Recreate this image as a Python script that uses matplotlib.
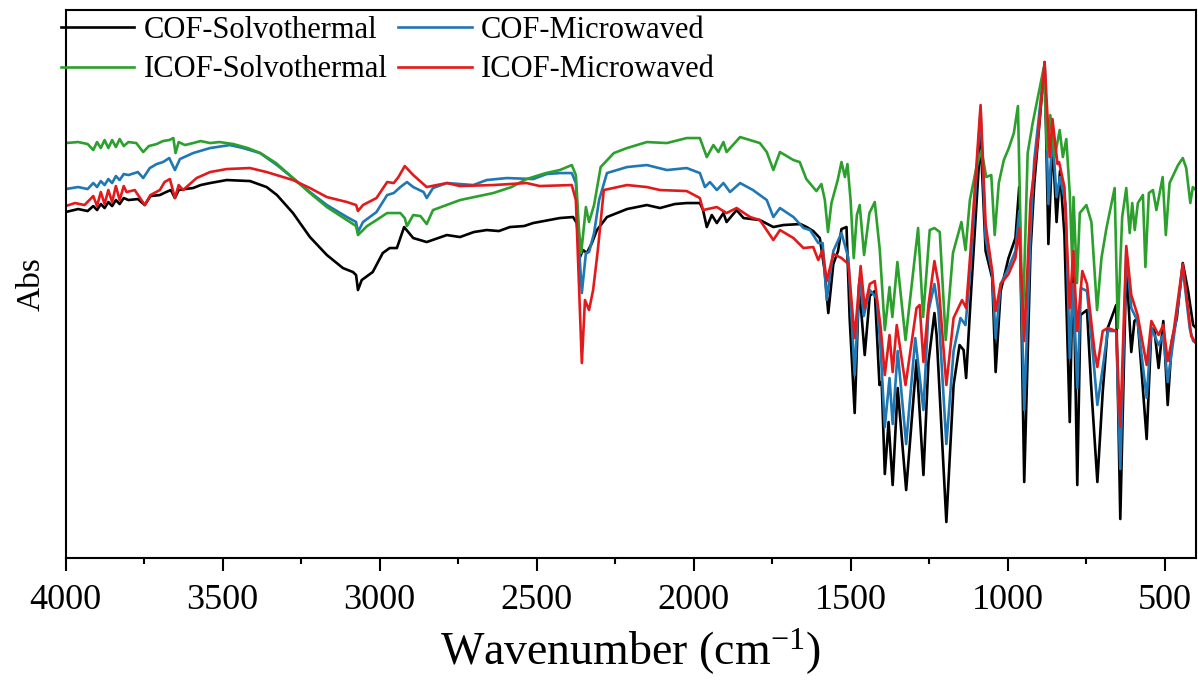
import numpy as np
import matplotlib
matplotlib.use("Agg")
import matplotlib.pyplot as plt
from matplotlib.ticker import MultipleLocator

plt.rcParams["font.family"] = ["Liberation Serif", "DejaVu Serif"]
plt.rcParams["mathtext.fontset"] = "custom"
plt.rcParams["mathtext.rm"] = "Liberation Serif"
plt.rcParams["mathtext.it"] = "Liberation Serif"

# FTIR spectra, (wavenumber cm-1, absorbance a.u.)
cof_solvo = np.array([
    (4000, 346), (3960, 349), (3930, 347), (3912, 352), (3900, 348), (3888, 354),
    (3876, 350), (3864, 356), (3852, 352), (3840, 358), (3828, 354), (3815, 360),
    (3800, 358), (3770, 359), (3748, 353), (3730, 362), (3700, 363), (3680, 366),
    (3665, 368), (3652, 360), (3640, 368), (3620, 369), (3594, 370), (3570, 373),
    (3540, 375), (3487, 378), (3413, 377), (3360, 371), (3327, 363), (3276, 345),
    (3222, 321), (3168, 303), (3117, 290), (3085, 286), (3075, 283), (3069, 268),
    (3057, 278), (3022, 286), (2990, 305), (2968, 310), (2945, 310), (2922, 331),
    (2893, 320), (2850, 316), (2786, 323), (2744, 321), (2700, 326), (2659, 328),
    (2620, 327), (2585, 331), (2540, 332), (2511, 335), (2426, 340), (2384, 341),
    (2372, 335), (2362, 301), (2352, 308), (2340, 305), (2324, 315), (2308, 328),
    (2276, 341), (2212, 349), (2149, 353), (2107, 350), (2060, 354), (2022, 355),
    (1980, 355), (1970, 348), (1958, 331), (1942, 343), (1926, 335), (1905, 345),
    (1895, 336), (1863, 348), (1841, 340), (1789, 338), (1746, 331), (1714, 333),
    (1660, 334), (1640, 331), (1619, 327), (1598, 320), (1583, 288), (1571, 245),
    (1555, 294), (1540, 307), (1529, 329), (1513, 331), (1503, 240), (1487, 145),
    (1473, 274), (1455, 203), (1439, 262), (1423, 267), (1408, 173), (1401, 176),
    (1391, 84), (1379, 136), (1366, 73), (1350, 170), (1323, 68), (1290, 198),
    (1268, 83), (1252, 196), (1233, 245), (1226, 223), (1195, 36), (1172, 173),
    (1153, 213), (1140, 208), (1132, 180), (1118, 257), (1086, 421), (1070, 307),
    (1049, 280), (1038, 186), (1022, 267), (997, 300), (975, 320), (963, 371),
    (947, 76), (927, 307), (915, 374), (882, 496), (870, 314), (857, 418),
    (844, 336), (833, 387), (819, 324), (802, 136), (791, 307), (778, 73),
    (768, 243), (747, 248), (734, 173), (714, 76), (697, 166), (681, 230),
    (654, 253), (641, 39), (622, 294), (606, 206), (596, 237), (586, 240),
    (557, 119), (542, 230), (532, 227), (519, 190), (504, 237), (490, 153),
    (477, 217), (461, 240), (442, 295), (425, 267), (409, 233), (400, 230),
])

cof_micro = np.array([
    (4000, 369), (3960, 371), (3930, 369), (3912, 375), (3900, 371), (3888, 377),
    (3876, 373), (3864, 379), (3852, 375), (3840, 382), (3828, 378), (3815, 384),
    (3800, 383), (3770, 386), (3753, 380), (3732, 390), (3710, 394), (3690, 396),
    (3670, 400), (3652, 388), (3636, 399), (3594, 405), (3540, 410), (3477, 413),
    (3435, 410), (3381, 405), (3327, 393), (3276, 380), (3222, 366), (3168, 353),
    (3104, 341), (3075, 336), (3069, 326), (3053, 336), (3010, 346), (2976, 363),
    (2955, 365), (2934, 371), (2913, 376), (2893, 371), (2860, 366), (2850, 360),
    (2830, 370), (2786, 375), (2702, 373), (2659, 378), (2595, 380), (2511, 379),
    (2468, 384), (2425, 385), (2388, 385), (2375, 375), (2365, 311), (2356, 265),
    (2343, 305), (2333, 306), (2317, 325), (2301, 358), (2276, 385), (2212, 391),
    (2149, 393), (2085, 388), (2022, 390), (1980, 385), (1964, 371), (1948, 376),
    (1926, 368), (1905, 375), (1884, 366), (1852, 375), (1811, 368), (1767, 358),
    (1746, 341), (1725, 350), (1682, 341), (1650, 330), (1629, 328), (1603, 315),
    (1589, 315), (1576, 258), (1555, 307), (1529, 325), (1507, 300), (1487, 183),
    (1471, 280), (1458, 242), (1439, 268), (1417, 260), (1404, 207), (1391, 131),
    (1376, 180), (1366, 134), (1350, 207), (1323, 114), (1294, 220), (1268, 148),
    (1252, 247), (1233, 274), (1220, 247), (1195, 114), (1172, 207), (1150, 240),
    (1134, 233), (1118, 290), (1086, 448), (1070, 320), (1049, 284), (1038, 220),
    (1022, 274), (997, 290), (975, 307), (963, 347), (947, 148), (927, 324),
    (915, 398), (882, 495), (870, 354), (857, 424), (844, 361), (833, 381),
    (815, 354), (802, 200), (791, 274), (778, 170), (766, 270), (747, 267),
    (729, 207), (714, 153), (697, 190), (681, 227), (654, 227), (641, 89),
    (622, 307), (606, 250), (586, 237), (557, 160), (542, 230), (519, 213),
    (504, 223), (490, 176), (471, 220), (442, 290), (420, 230), (409, 217),
    (400, 215),
])

icof_solvo = np.array([
    (4000, 415), (3960, 416), (3930, 414), (3912, 408), (3900, 416), (3888, 410),
    (3876, 418), (3864, 410), (3852, 418), (3840, 411), (3828, 419), (3815, 412),
    (3800, 416), (3775, 415), (3753, 406), (3735, 412), (3710, 414), (3690, 417),
    (3670, 418), (3657, 420), (3650, 405), (3640, 416), (3620, 413), (3594, 415),
    (3570, 417), (3540, 415), (3510, 416), (3466, 414), (3420, 410), (3380, 405),
    (3330, 395), (3276, 380), (3222, 365), (3168, 351), (3104, 338), (3075, 332),
    (3069, 323), (3040, 332), (3010, 338), (2976, 345), (2934, 345), (2920, 340),
    (2913, 332), (2893, 343), (2870, 342), (2850, 334), (2830, 348), (2744, 358),
    (2638, 365), (2580, 371), (2532, 379), (2470, 385), (2426, 388), (2388, 393),
    (2375, 383), (2365, 328), (2358, 305), (2343, 351), (2333, 336), (2317, 353),
    (2296, 391), (2254, 405), (2212, 410), (2149, 416), (2085, 415), (2022, 420),
    (1980, 420), (1958, 401), (1937, 413), (1921, 406), (1905, 416), (1895, 406),
    (1852, 421), (1789, 415), (1767, 406), (1746, 388), (1725, 406), (1682, 398),
    (1662, 396), (1641, 379), (1609, 367), (1593, 374), (1582, 358), (1572, 326),
    (1561, 355), (1541, 378), (1529, 396), (1518, 381), (1510, 394), (1500, 358),
    (1490, 300), (1480, 343), (1471, 353), (1457, 303), (1440, 345), (1423, 356),
    (1407, 308), (1391, 228), (1376, 271), (1367, 241), (1351, 296), (1325, 218),
    (1285, 330), (1269, 241), (1248, 328), (1233, 330), (1216, 326), (1197, 218),
    (1174, 305), (1147, 336), (1134, 308), (1120, 358), (1099, 391), (1083, 408),
    (1068, 381), (1052, 383), (1041, 323), (1028, 375), (1012, 398), (996, 410),
    (980, 425), (967, 452), (952, 228), (936, 405), (920, 435), (885, 490),
    (874, 408), (864, 443), (850, 401), (834, 428), (824, 401), (813, 419),
    (802, 365), (794, 295), (790, 361), (779, 275), (770, 345), (749, 353),
    (733, 336), (715, 248), (701, 300), (685, 330), (659, 370), (649, 230),
    (635, 341), (622, 370), (611, 325), (603, 355), (595, 328), (585, 355),
    (569, 363), (561, 291), (550, 365), (537, 368), (526, 348), (506, 381),
    (496, 323), (484, 375), (457, 393), (442, 400), (431, 390), (418, 355),
    (410, 371), (400, 368),
])

icof_micro = np.array([
    (4000, 352), (3970, 355), (3940, 353), (3912, 362), (3900, 352), (3888, 366),
    (3876, 354), (3864, 368), (3852, 356), (3840, 372), (3828, 358), (3815, 372),
    (3806, 366), (3780, 368), (3748, 353), (3730, 363), (3700, 368), (3685, 376),
    (3668, 379), (3652, 360), (3640, 373), (3626, 368), (3583, 380), (3540, 386),
    (3487, 389), (3413, 390), (3360, 386), (3276, 378), (3222, 370), (3168, 361),
    (3104, 356), (3075, 353), (3069, 347), (3053, 353), (3010, 360), (2976, 376),
    (2955, 375), (2940, 381), (2920, 392), (2893, 383), (2850, 371), (2786, 375),
    (2744, 372), (2638, 373), (2532, 375), (2490, 372), (2388, 373), (2375, 358),
    (2365, 271), (2356, 195), (2346, 258), (2333, 248), (2320, 268), (2305, 308),
    (2286, 368), (2212, 373), (2149, 371), (2107, 368), (2022, 367), (1980, 360),
    (1970, 348), (1926, 351), (1895, 345), (1863, 350), (1820, 341), (1789, 338),
    (1746, 318), (1725, 328), (1682, 320), (1650, 310), (1619, 311), (1603, 298),
    (1589, 308), (1576, 277), (1555, 304), (1529, 300), (1507, 294), (1487, 220),
    (1468, 292), (1455, 250), (1439, 274), (1423, 277), (1404, 230), (1391, 183),
    (1376, 223), (1366, 186), (1353, 233), (1325, 173), (1290, 250), (1280, 253),
    (1268, 196), (1252, 253), (1233, 297), (1220, 274), (1195, 173), (1172, 240),
    (1145, 258), (1132, 250), (1118, 307), (1086, 453), (1070, 334), (1049, 287),
    (1038, 247), (1022, 274), (997, 284), (975, 300), (963, 330), (947, 217),
    (927, 357), (905, 414), (882, 496), (866, 401), (857, 439), (841, 394),
    (836, 396), (819, 371), (802, 250), (791, 307), (778, 227), (762, 287),
    (747, 274), (723, 207), (714, 191), (697, 227), (681, 230), (654, 227),
    (641, 131), (622, 312), (606, 263), (586, 243), (557, 193), (542, 237),
    (519, 223), (504, 233), (490, 197), (471, 227), (442, 294), (415, 222),
    (400, 215),
])

series = [
    ("COF-Solvothermal", cof_solvo, "black"),
    ("COF-Microwaved", cof_micro, "#1f77b4"),
    ("ICOF-Solvothermal", icof_solvo, "#2ca02c"),
    ("ICOF-Microwaved", icof_micro, "#e31a1c"),
]

fig = plt.figure(figsize=(11.98, 6.80), dpi=100)
ax = fig.add_axes([0.0548, 0.1794, 0.9435, 0.8058])

lineas = {}
for nombre, datos, color in series:
    (l,) = ax.plot(datos[:, 0], datos[:, 1], color=color, lw=1.9, label=nombre)
    lineas[nombre] = l

ax.set_xlim(4000, 400)
ax.set_ylim(0, 548)
ax.xaxis.set_major_locator(MultipleLocator(500))
ax.xaxis.set_minor_locator(MultipleLocator(250))
ax.set_yticks([])
ax.tick_params(axis="x", which="major", direction="out", length=9, width=1.5,
               labelsize=26, pad=10)
ax.tick_params(axis="x", which="minor", direction="out", length=4.5, width=1.5)
for s in ax.spines.values():
    s.set_linewidth(1.5)

ax.set_xlabel("Wavenumber (cm$^{-1}$)", fontsize=33, labelpad=7)
ax.set_ylabel("Abs", fontsize=24, labelpad=14)

# orden para que las filas queden: negro/azul arriba, verde/rojo abajo
orden = ["COF-Solvothermal", "ICOF-Solvothermal", "COF-Microwaved", "ICOF-Microwaved"]
ax.legend([lineas[n] for n in orden], orden, ncol=2, loc="upper left",
          bbox_to_anchor=(-0.004, 0.990), frameon=False, fontsize=22,
          borderpad=0, borderaxespad=0, handlelength=2.4, handletextpad=0.3,
          columnspacing=0.35, labelspacing=0.35)

fig.savefig("out.png", dpi=100)
